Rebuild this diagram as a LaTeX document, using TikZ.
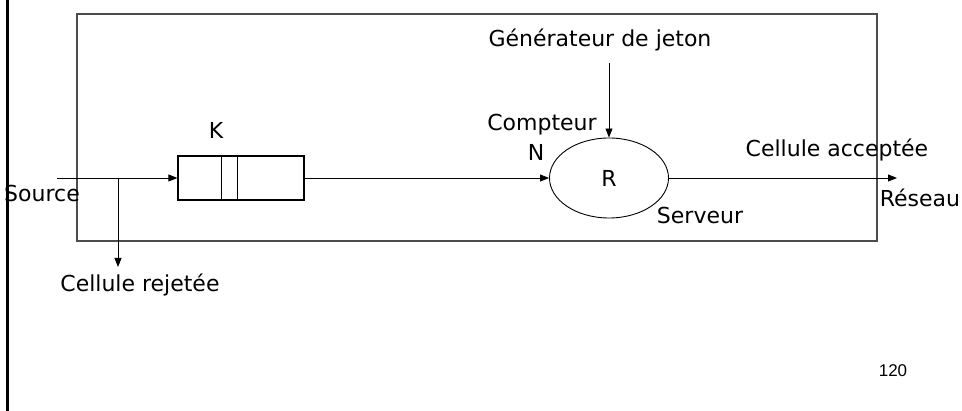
\documentclass[tikz,border=0pt]{standalone}
\usepackage{fontspec}
\setmainfont{DejaVu Sans}
\newfontfamily\numfont{Liberation Sans}
\usetikzlibrary{arrows.meta,shapes.geometric,positioning,calc}

\begin{document}
\begin{tikzpicture}[x=1pt,y=-1pt,
  lbl/.style={font=\fontsize{22}{26}\selectfont, inner sep=0pt},
  flow/.style={-{Triangle[length=9pt,width=7pt]}, line width=0.9pt}]
\useasboundingbox (0,0) rectangle (962,411);

% slide edge and frame
\draw[line width=3pt] (7,0) -- (7,411);
\draw[line width=1.2pt, black!70] (77,14) rectangle (877,241);

% queue and server
\node[draw, line width=1.2pt, minimum width=126pt, minimum height=44pt, inner sep=0pt] (queue) at (241,178) {};
\draw[line width=1pt] ($(queue.north west)+(44,0)$) -- ($(queue.south west)+(44,0)$);
\draw[line width=1pt] ($(queue.north west)+(60,0)$) -- ($(queue.south west)+(60,0)$);
\node[draw, ellipse, line width=0.9pt, minimum width=119pt, minimum height=80pt, lbl] (server) at (609,178) {R};

% labels
\node[lbl] (source) at (42,193) {Source};
\node[lbl] (rejected) at (140,285) {Cellule rejetée};
\node[lbl] (size) at (216,130) {K};
\node[lbl] (gen) at (600,40) {Générateur de jeton};
\node[lbl] (counter) at (542,125) {Compteur};
\node[lbl] (count) at (536,152) {N};
\node[lbl] (accepted) at (837,150) {Cellule acceptée};
\node[lbl] (net) at (920,198) {Réseau};
\node[lbl] (srvname) at (700,215) {Serveur};
\node[font=\numfont\fontsize{17}{20}\selectfont, inner sep=0pt] (page) at (893,371) {120};

% connectors
\coordinate (src) at (57,178);
\coordinate (split) at (118,178);
\coordinate (drop) at (118,267);
\coordinate (tok) at (609,63);
\coordinate (out) at (897,178);
\draw[flow] (src) -- (queue.west);
\draw[flow] (split) -- (drop);
\draw[flow] (queue.east) -- (server.west);
\draw[flow] (tok) -- (server.north);
\draw[flow] (server.east) -- (out);
\end{tikzpicture}
\end{document}
